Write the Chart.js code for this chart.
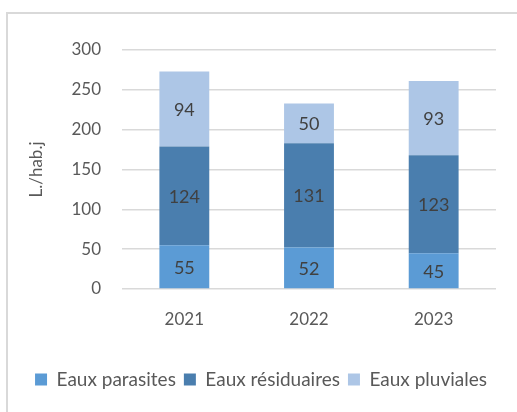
<!DOCTYPE html>
<html>
<head>
<meta charset="utf-8">
<script src="https://cdn.jsdelivr.net/npm/chart.js@4/dist/chart.umd.min.js"></script>
<style>
  html, body { margin: 0; padding: 0; background: #fff; }
  #wrap { position: relative; width: 517px; height: 412px; overflow: hidden; }
  #frame { position: absolute; left: 6px; top: 12px; width: 600px; height: 500px;
           border-left: 2px solid #d9d9d9; border-top: 2px solid #d9d9d9; box-sizing: border-box; }
  canvas { position: absolute; left: 0; top: 0; }
</style>
</head>
<body>
<div id="wrap">
  <div id="frame"></div>
  <canvas id="chart" width="517" height="412"></canvas>
</div>
<script>
// données
const annees = ['2021', '2022', '2023'];
const eauxParasites = [55, 52, 45];
const eauxResiduaires = [124, 131, 123];
const eauxPluviales = [94, 50, 93];
const graduationsY = [0, 50, 100, 150, 200, 250, 300];

const police = 'Lato, "Liberation Sans", sans-serif';

// étiquettes de valeur au centre de chaque segment
const etiquettesValeurs = {
    id: 'etiquettesValeurs',
    afterDatasetsDraw(chart) {
        const ctx = chart.ctx;
        ctx.save();
        ctx.fillStyle = '#404040';
        ctx.font = '18px ' + police;
        ctx.textAlign = 'center';
        ctx.textBaseline = 'middle';
        chart.data.datasets.forEach((ds, i) => {
            chart.getDatasetMeta(i).data.forEach((bar, j) => {
                ctx.fillText(String(ds.data[j]), bar.x, (bar.y + bar.base) / 2 + 1);
            });
        });
        ctx.restore();
    }
};

new Chart(document.getElementById('chart'), {
    type: 'bar',
    data: {
        labels: annees,
        datasets: [
            { label: 'Eaux parasites', data: eauxParasites, backgroundColor: '#5b9bd5' },
            { label: 'Eaux résiduaires', data: eauxResiduaires, backgroundColor: '#4a7eae' },
            { label: 'Eaux pluviales', data: eauxPluviales, backgroundColor: '#adc6e6' }
        ]
    },
    options: {
        responsive: false,
        animation: false,
        layout: { padding: { left: 26, right: 21, top: 50, bottom: 13 } },
        datasets: { bar: { categoryPercentage: 1, barPercentage: 0.4 } },
        plugins: {
            legend: {
                position: 'bottom',
                labels: {
                    boxWidth: 12,
                    boxHeight: 12,
                    padding: 8,
                    color: '#595959',
                    font: { family: police, size: 19 }
                }
            },
            tooltip: { enabled: false }
        },
        scales: {
            x: {
                stacked: true,
                grid: { display: false, drawTicks: false },
                border: { display: false },
                ticks: { color: '#595959', padding: 20, font: { family: police, size: 17 } },
                afterFit(scale) { scale.height = 73; }
            },
            y: {
                stacked: true,
                min: 0,
                max: 300,
                afterBuildTicks(scale) {
                    scale.ticks = graduationsY.map(v => ({ value: v }));
                },
                grid: { color: '#d9d9d9', lineWidth: 1.5, drawTicks: false },
                border: { display: false },
                ticks: { color: '#595959', padding: 21, font: { family: police, size: 17 } },
                title: {
                    display: true,
                    text: 'L./hab.j',
                    color: '#595959',
                    padding: 0,
                    font: { family: police, size: 17 }
                },
                afterFit(scale) { scale.width = 122 - 26; }
            }
        }
    },
    plugins: [etiquettesValeurs]
});
</script>
</body>
</html>
